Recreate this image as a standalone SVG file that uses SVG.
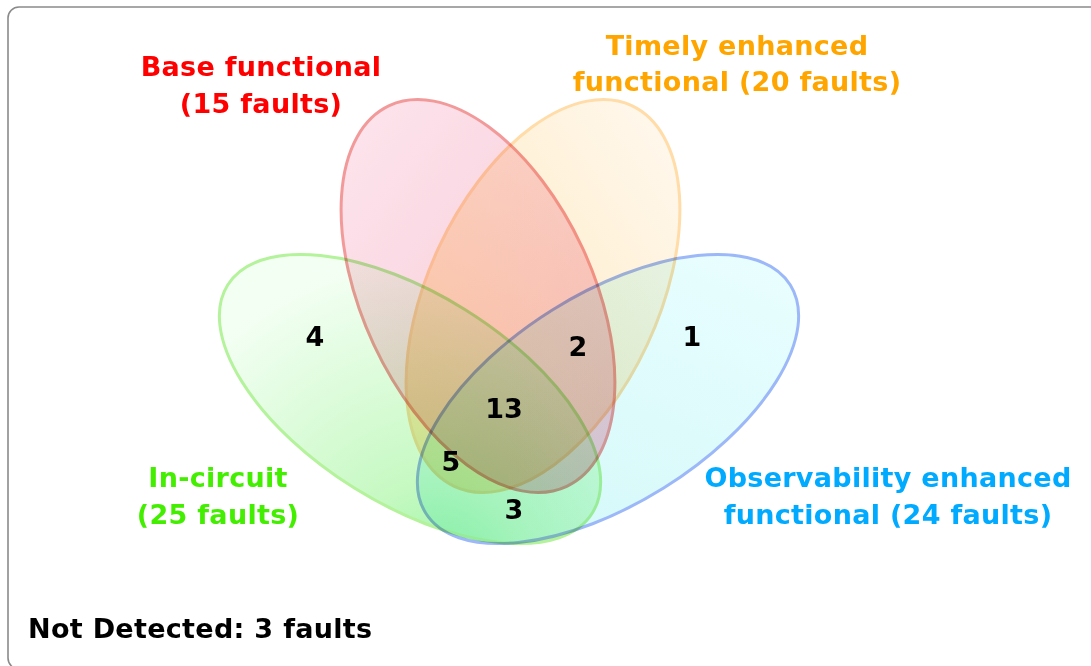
<svg xmlns="http://www.w3.org/2000/svg" width="1091" height="666" viewBox="0 0 1091 666">
<style>
.lbl{font-family:"DejaVu Sans",sans-serif;font-weight:bold;font-size:27px;letter-spacing:0.3px;text-anchor:middle}
.num{font-family:"DejaVu Sans",sans-serif;font-weight:bold;font-size:27px;text-anchor:middle;fill:#000}
.set{stroke-width:3;mix-blend-mode:multiply}
</style>
<defs>
<radialGradient id="gGreen" gradientUnits="userSpaceOnUse" cx="525" cy="530" r="320">
<stop offset="0" stop-color="#9ef6a6"/>
<stop offset="0.28" stop-color="#c6f9c2"/>
<stop offset="1" stop-color="#f4fff4"/>
</radialGradient>
<linearGradient id="gBlue" gradientUnits="userSpaceOnUse" x1="780" y1="270" x2="430" y2="520">
<stop offset="0" stop-color="#eafeff"/>
<stop offset="1" stop-color="#d2f8f8"/>
</linearGradient>
<linearGradient id="gYellow" gradientUnits="userSpaceOnUse" x1="640" y1="110" x2="430" y2="470">
<stop offset="0" stop-color="#fff8ee"/>
<stop offset="1" stop-color="#ffe6b4"/>
</linearGradient>
<linearGradient id="gRed" gradientUnits="userSpaceOnUse" x1="380" y1="110" x2="580" y2="480">
<stop offset="0" stop-color="#fde4ec"/>
<stop offset="1" stop-color="#f6c6d4"/>
</linearGradient>
</defs>
<rect x="8" y="7" width="1100" height="662" rx="11" fill="#fff" stroke="#8a8a8a" stroke-width="1.6"/>
<g id="in-circuit">
<ellipse class="set" cx="410" cy="399" rx="215" ry="105" transform="rotate(32 410 399)" fill="url(#gGreen)" stroke="#b4f29c"/>
</g>
<g id="observability">
<ellipse class="set" cx="608" cy="399" rx="215" ry="105" transform="rotate(-32 608 399)" fill="url(#gBlue)" stroke="#9cb8f8"/>
</g>
<g id="timely">
<ellipse class="set" cx="543" cy="296" rx="115" ry="210" transform="rotate(25 543 296)" fill="url(#gYellow)" stroke="#ffdca8"/>
</g>
<g id="base">
<ellipse class="set" cx="478" cy="296" rx="115" ry="210" transform="rotate(-25 478 296)" fill="url(#gRed)" stroke="#f29a9a"/>
</g>
<g id="labels">
<text class="lbl" fill="#ff0000" x="261" y="76">Base functional</text>
<text class="lbl" fill="#ff0000" x="261" y="113">(15 faults)</text>
<text class="lbl" fill="#ffa500" x="737" y="55">Timely enhanced</text>
<text class="lbl" fill="#ffa500" x="737" y="91">functional (20 faults)</text>
<text class="lbl" fill="#44ee00" x="218" y="487">In-circuit</text>
<text class="lbl" fill="#44ee00" x="218" y="524">(25 faults)</text>
<text class="lbl" fill="#00aaff" x="888" y="487">Observability enhanced</text>
<text class="lbl" fill="#00aaff" x="888" y="524">functional (24 faults)</text>
<text class="lbl" fill="#000" x="28" y="638" style="text-anchor:start">Not Detected: 3 faults</text>
</g>
<g id="counts">
<text class="num" x="315" y="346">4</text>
<text class="num" x="578" y="356">2</text>
<text class="num" x="692" y="346">1</text>
<text class="num" x="504" y="418">13</text>
<text class="num" x="451" y="471">5</text>
<text class="num" x="514" y="519">3</text>
</g>
</svg>
